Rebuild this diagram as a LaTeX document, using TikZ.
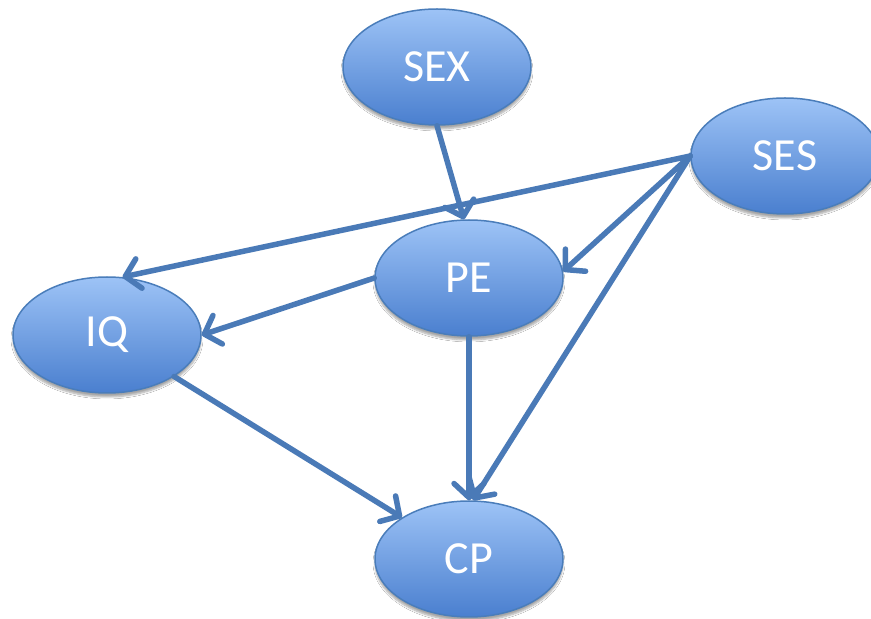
\documentclass[tikz,border=0pt]{standalone}
\usepackage{fontspec}
\setmainfont{Carlito}
\usetikzlibrary{shapes.geometric,arrows.meta,shadows.blur}
\definecolor{nodetop}{HTML}{9DC3F6}
\definecolor{nodebot}{HTML}{4A7FCF}
\definecolor{nodeline}{HTML}{4A7DBA}
\definecolor{edgeblue}{HTML}{4A7AB7}
\tikzset{
  var/.style={ellipse, minimum width=188pt, minimum height=116pt, inner sep=0pt,
    draw=nodeline, line width=1.5pt, top color=nodetop, bottom color=nodebot,
    text=white, font=\fontsize{46}{48}\selectfont,
    blur shadow={shadow xshift=0pt, shadow yshift=-4pt, shadow blur steps=6, shadow opacity=35}},
  link/.style={draw=edgeblue, line width=5.5pt, line cap=round,
    -{Straight Barb[length=14pt,width=30pt,line cap=round,line join=round]}}
}
\begin{document}
\begin{tikzpicture}[x=1pt,y=1pt]
  \useasboundingbox (0,0) rectangle (871,619);
  \clip (0,0) rectangle (871,619);
  \fill[white] (0,0) rectangle (871,619);
  % variables
  \node[var] (SEX) at (437,552) {SEX};
  \node[var] (SES) at (785,463) {SES};
  \node[var] (PE)  at (469,341) {PE};
  \node[var] (IQ)  at (107,284) {IQ};
  \node[var] (CP)  at (469,60)  {CP};
  % directed effects
  \draw[link] (SEX.south) -- (PE.95);
  \draw[link] (SES.west) -- (IQ.75);
  \draw[link] (SES.west) -- (PE.4);
  \draw[link] (SES.west) -- (CP.86);
  \draw[link] (PE.west) -- (IQ.east);
  \draw[link] (PE.south) -- (CP.north);
  \draw[link] (IQ) -- (CP);
\end{tikzpicture}
\end{document}
